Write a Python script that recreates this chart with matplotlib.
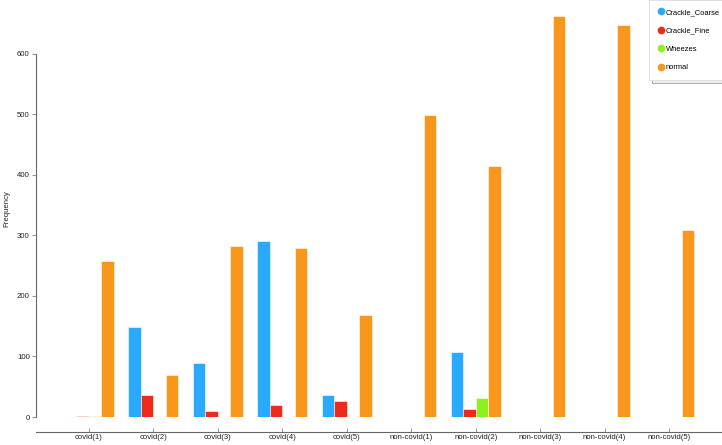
import matplotlib
matplotlib.use('Agg')
import matplotlib.pyplot as plt
from matplotlib.lines import Line2D
import numpy as np

plt.rcParams['font.family'] = ['Liberation Sans', 'DejaVu Sans']

categories = ['covid(1)', 'covid(2)', 'covid(3)', 'covid(4)', 'covid(5)',
              'non-covid(1)', 'non-covid(2)', 'non-covid(3)', 'non-covid(4)', 'non-covid(5)']
series_names = ['Crackle_Coarse', 'Crackle_Fine', 'Wheezes', 'normal']
crackle_coarse = [0, 149, 90, 291, 36, 0, 107, 0, 0, 0]
crackle_fine   = [1, 36, 10, 20, 27, 0, 13, 0, 0, 0]
wheezes        = [2, 0, 0, 0, 0, 0, 31, 0, 0, 0]
normal         = [258, 70, 282, 280, 168, 499, 415, 663, 648, 309]
y_ticks = [0, 100, 200, 300, 400, 500, 600]

colors = ['#29aaff', '#ee2a1b', '#8ef01c', '#f7981d']
series = [crackle_coarse, crackle_fine, wheezes, normal]

fig = plt.figure(figsize=(7.22, 4.45), dpi=100, facecolor='white')
ax = fig.add_axes([36 / 722, 28 / 445, 686 / 722, 417 / 445])

# spines first (set_position resets the ticks)
for s in ['top', 'right']:
    ax.spines[s].set_visible(False)
ax.spines['bottom'].set_position(('outward', 10.8))
ax.spines['left'].set_bounds(0, 600)
for s in ['left', 'bottom']:
    ax.spines[s].set_color('#666666')
    ax.spines[s].set_linewidth(0.8)

x = np.arange(len(categories))
w = 0.194
for i, (vals, col) in enumerate(zip(series, colors)):
    ax.bar(x + (i - 1.5) * w, vals, width=w, color=col,
           edgecolor='white', linewidth=0.4, zorder=3)

ax.set_xlim(-0.82, len(categories) - 1 + 0.82)
ax.set_ylim(0, 689)

ax.set_xticks(x)
ax.set_xticklabels(categories, fontsize=5.6, color='#222222')
ax.set_yticks(y_ticks)
ax.set_yticklabels([str(t) for t in y_ticks], fontsize=5.6, color='#222222')
ax.tick_params(axis='x', direction='in', length=3, color='#999999', pad=1.5)
ax.tick_params(axis='y', direction='out', length=3, color='#999999', pad=1.5)
ax.set_ylabel('Frequency', fontsize=5.6, color='#222222', labelpad=5)

handles = [Line2D([], [], marker='o', linestyle='none', markersize=4.5,
                  markerfacecolor=c, markeredgecolor=c) for c in colors]
leg = fig.legend(handles, series_names, loc='upper left',
                 bbox_to_anchor=(649 / 722, 1.0), fontsize=5.4,
                 frameon=True, fancybox=False,
                 shadow={'facecolor': '#dddddd', 'alpha': 0.5},
                 labelspacing=1.5, handletextpad=0.23, handlelength=0.87,
                 borderpad=1.15, borderaxespad=0)
leg.get_frame().set_edgecolor('#dddddd')
leg.get_frame().set_linewidth(0.6)

fig.savefig('out.png', dpi=100, facecolor='white')
